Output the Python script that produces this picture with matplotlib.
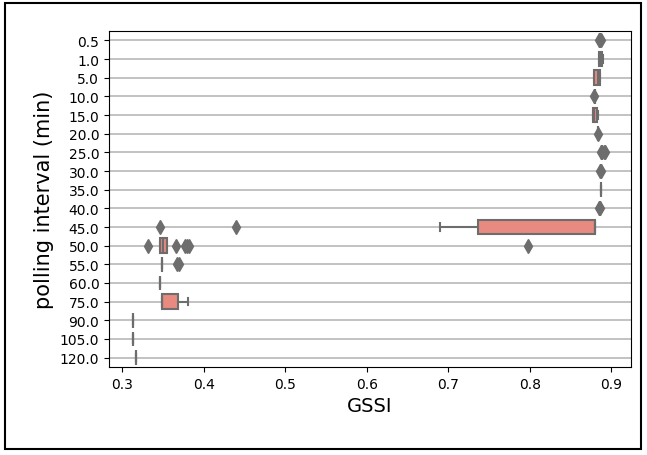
import matplotlib
matplotlib.use("Agg")
import matplotlib.pyplot as plt
import matplotlib.patches as mpatches

# ---------- data ----------
intervals = ["0.5", "1.0", "5.0", "10.0", "15.0", "20.0", "25.0", "30.0", "35.0",
             "40.0", "45.0", "50.0", "55.0", "60.0", "75.0", "90.0", "105.0", "120.0"]

q1 = [0.8855, 0.8850, 0.8790, 0.8798, 0.8775, 0.8840, 0.8890, 0.8866, 0.8875,
      0.8856, 0.7362, 0.3465, 0.3483, 0.3462, 0.3479, 0.3125, 0.3125, 0.3161]
med = [0.8860, 0.8868, 0.8830, 0.8800, 0.8790, 0.8840, 0.8890, 0.8866, 0.8875,
       0.8856, 0.8795, 0.3500, 0.3483, 0.3462, 0.3479, 0.3125, 0.3125, 0.3161]
q3 = [0.8865, 0.8888, 0.8855, 0.8802, 0.8828, 0.8840, 0.8890, 0.8866, 0.8875,
      0.8856, 0.8797, 0.3547, 0.3483, 0.3462, 0.3678, 0.3125, 0.3125, 0.3161]
whis_lo = [0.8850, 0.8845, 0.8780, 0.8795, 0.8770, 0.8840, 0.8890, 0.8866, 0.8875,
           0.8856, 0.6893, 0.3465, 0.3483, 0.3462, 0.3479, 0.3125, 0.3125, 0.3161]
whis_hi = [0.8870, 0.8892, 0.8865, 0.8805, 0.8835, 0.8840, 0.8890, 0.8866, 0.8875,
           0.8856, 0.8797, 0.3547, 0.3483, 0.3462, 0.3805, 0.3125, 0.3125, 0.3161]
fliers = [
    [0.8845, 0.8875],
    [],
    [],
    [0.8790],
    [],
    [0.8835],
    [0.8870, 0.8905, 0.8925],
    [0.8862, 0.8872],
    [],
    [0.8850, 0.8865],
    [0.3462, 0.4388],
    [0.3315, 0.3662, 0.3764, 0.3790, 0.3813, 0.7982],
    [0.3675, 0.3690],
    [],
    [],
    [],
    [],
    [],
]

stats = []
for i in range(len(intervals)):
    stats.append({
        "label": intervals[i],
        "q1": q1[i], "med": med[i], "q3": q3[i],
        "whislo": whis_lo[i], "whishi": whis_hi[i],
        "fliers": fliers[i],
    })

# ---------- colours ----------
box_face = "#e98a80"
line_gray = "#6d6d6d"

# ---------- figure ----------
fig = plt.figure(figsize=(6.47, 4.56), dpi=100)
ax = fig.add_axes([0.1685, 0.193, 0.8068, 0.7368])

ax.bxp(
    stats,
    positions=range(len(intervals)),
    widths=0.8,
    vert=False,
    patch_artist=True,
    boxprops=dict(facecolor=box_face, edgecolor=line_gray, linewidth=1.5),
    medianprops=dict(color=line_gray, linewidth=1.5),
    whiskerprops=dict(color=line_gray, linewidth=1.5),
    capprops=dict(color=line_gray, linewidth=1.5),
    flierprops=dict(marker="d", markerfacecolor=line_gray,
                    markeredgecolor=line_gray, markersize=7),
)

ax.set_yticks(range(len(intervals)))
ax.set_yticklabels(intervals)
ax.set_ylim(len(intervals) - 0.5, -0.5)
ax.set_xlim(0.2835, 0.924)
ax.tick_params(axis="both", labelsize=10)
ax.yaxis.grid(True, color="#bdbdbd", linewidth=1.3)

ax.set_xlabel("GSSI", fontsize=14)
ax.set_ylabel("polling interval (min)", fontsize=15)

# outer frame around the whole figure
frame = mpatches.Rectangle((0.0077, 0.0132), 0.983, 0.978, transform=fig.transFigure,
                           fill=False, edgecolor="black", linewidth=1.5)
fig.patches.append(frame)

fig.savefig("out.png", dpi=100)
